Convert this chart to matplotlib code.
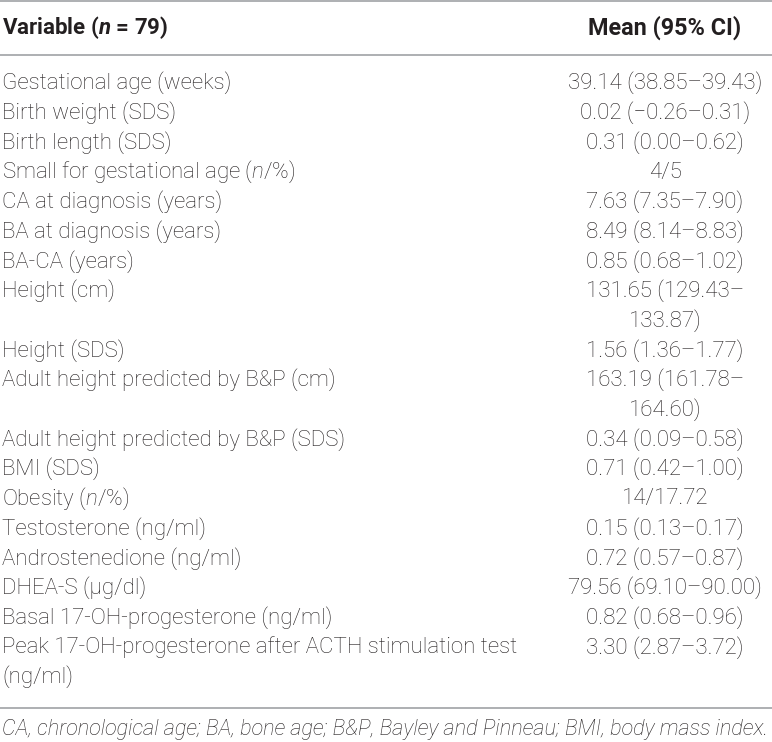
import matplotlib.pyplot as plt

plt.rcParams['font.family'] = ['Roboto', 'DejaVu Sans']
plt.rcParams['mathtext.fontset'] = 'custom'
plt.rcParams['mathtext.it'] = 'Roboto:italic:light'
plt.rcParams['mathtext.rm'] = 'Roboto:light'
plt.rcParams['mathtext.bf'] = 'Roboto:bold'
plt.rcParams['mathtext.bfit'] = 'Roboto:italic:bold'

header_left = r'Variable ($\mathbfit{n}$ = 79)'
header_right = 'Mean (95% CI)'

variables = [
    'Gestational age (weeks)',
    'Birth weight (SDS)',
    'Birth length (SDS)',
    r'Small for gestational age ($n$/%)',
    'CA at diagnosis (years)',
    'BA at diagnosis (years)',
    'BA-CA (years)',
    'Height (cm)',
    'Height (SDS)',
    'Adult height predicted by B&P (cm)',
    'Adult height predicted by B&P (SDS)',
    'BMI (SDS)',
    r'Obesity ($n$/%)',
    'Testosterone (ng/ml)',
    'Androstenedione (ng/ml)',
    'DHEA-S (µg/dl)',
    'Basal 17-OH-progesterone (ng/ml)',
    'Peak 17-OH-progesterone after ACTH stimulation test\n(ng/ml)',
]
values = [
    '39.14 (38.85–39.43)',
    '0.02 (−0.26–0.31)',
    '0.31 (0.00–0.62)',
    '4/5',
    '7.63 (7.35–7.90)',
    '8.49 (8.14–8.83)',
    '0.85 (0.68–1.02)',
    '131.65 (129.43–\n133.87)',
    '1.56 (1.36–1.77)',
    '163.19 (161.78–\n164.60)',
    '0.34 (0.09–0.58)',
    '0.71 (0.42–1.00)',
    '14/17.72',
    '0.15 (0.13–0.17)',
    '0.72 (0.57–0.87)',
    '79.56 (69.10–90.00)',
    '0.82 (0.68–0.96)',
    '3.30 (2.87–3.72)',
]
footnote = ('CA, chronological age; BA, bone age; B&P, Bayley and Pinneau; '
            'BMI, body mass index.')

W, H = 772, 742
fig = plt.figure(figsize=(W / 100, H / 100), dpi=100)
ax = fig.add_axes([0, 0, 1, 1])
ax.set_xlim(0, W)
ax.set_ylim(H, 0)
ax.axis('off')

txt = '#231f20'
rule = '#a7a9ac'
fs = 16
x_left = 2
x_val = 665
y_first = 83
step = 29.7

ax.axhline(1, color=rule, lw=1.3)
ax.axhline(55, color=rule, lw=1.3)
ax.text(x_left, 28, header_left, fontsize=16, fontweight='bold', color=txt,
        va='center', ha='left')
ax.text(x_val, 28, header_right, fontsize=16.8, fontweight='bold', color=txt,
        va='center', ha='center')

line = 0
for var, val in zip(variables, values):
    var_lines = var.split('\n')
    val_lines = val.split('\n')
    for k, s in enumerate(var_lines):
        ax.text(x_left, y_first + (line + k) * step, s, fontsize=fs,
                fontweight='light', color=txt, va='center', ha='left')
    for k, s in enumerate(val_lines):
        ax.text(x_val, y_first + (line + k) * step, s, fontsize=fs,
                fontweight='light', color=txt, va='center', ha='center')
    line += max(len(var_lines), len(val_lines))

ax.axhline(708, color=rule, lw=1.3)
ax.text(x_left, 730, footnote, fontsize=15.6, fontstyle='italic',
        fontweight='light', color=txt, va='center', ha='left')

fig.savefig('out.png', dpi=100)
